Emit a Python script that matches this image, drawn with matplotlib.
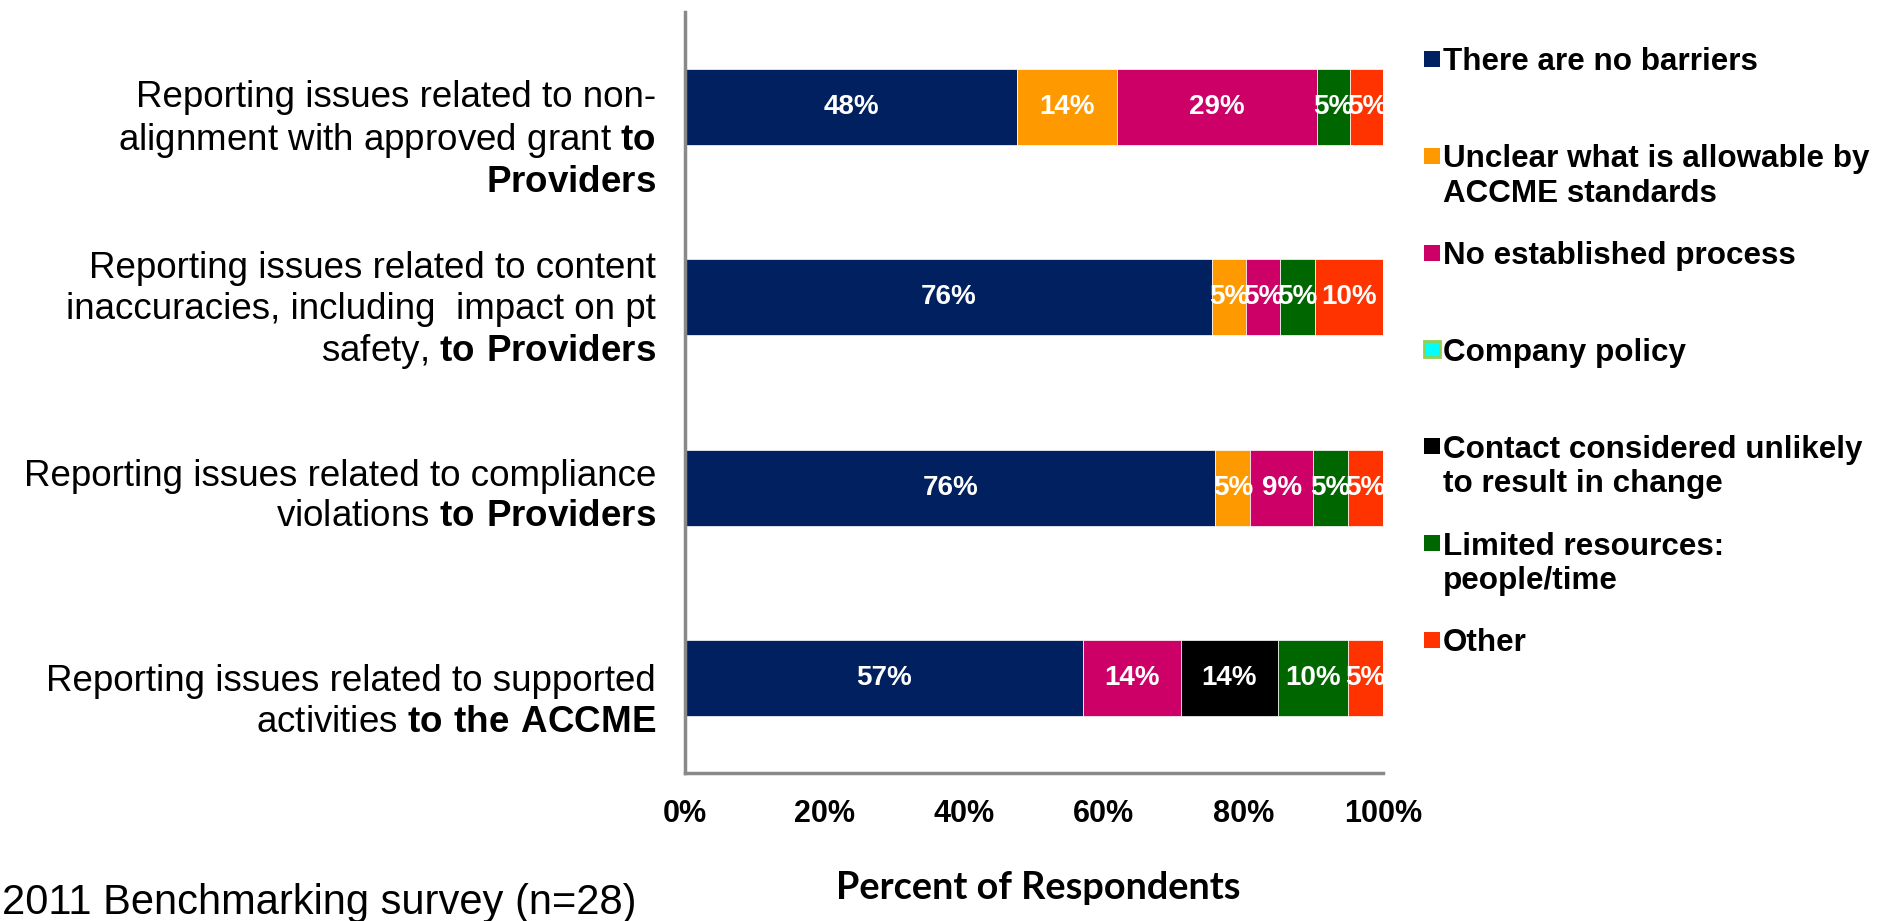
import matplotlib
matplotlib.use("Agg")
import matplotlib.pyplot as plt
from matplotlib.patches import Rectangle
import numpy as np

LAB_FONT = "Liberation Sans"
plt.rcParams['mathtext.fontset'] = 'custom'
plt.rcParams['mathtext.rm'] = LAB_FONT
plt.rcParams['mathtext.bf'] = LAB_FONT + ':bold'

# ---------------- data ----------------
categories = [
    "Reporting issues related to non-\nalignment with approved grant $\\mathbf{to}$\n$\\mathbf{Providers}$",
    "Reporting issues related to content\ninaccuracies, including  impact on pt\nsafety, $\\mathbf{to\\ Providers}$",
    "Reporting issues related to compliance\nviolations $\\mathbf{to\\ Providers}$",
    "Reporting issues related to supported\nactivities $\\mathbf{to\\ the\\ ACCME}$",
]
series_names = [
    "There are no barriers",
    "Unclear what is allowable by\nACCME standards",
    "No established process",
    "Company policy",
    "Contact considered unlikely\nto result in change",
    "Limited resources:\npeople/time",
    "Other",
]
# percent of respondents, one list per series (order: categories top to bottom)
no_barriers   = [47.6, 75.5, 76.0, 57.0]
unclear       = [14.3, 4.9, 5.0, 0.0]
no_process    = [28.6, 4.9, 9.0, 14.0]
company       = [0.0, 0.0, 0.0, 0.0]
contact       = [0.0, 0.0, 0.0, 14.0]
limited       = [4.8, 4.9, 5.0, 10.0]
other         = [4.8, 9.8, 5.0, 5.0]
x_ticks = [0, 20, 40, 60, 80, 100]
x_tick_labels = ["0%", "20%", "40%", "60%", "80%", "100%"]

colors = ["#002060", "#FF9900", "#CC0066", "#00FFFF", "#000000", "#006600", "#FF3300"]
edge_colors = [None, None, None, "#92D050", None, None, None]

values = [no_barriers, unclear, no_process, company, contact, limited, other]

# ---------------- figure ----------------
W, H = 1887, 921
fig = plt.figure(figsize=(W / 100, H / 100), dpi=100)
ax = fig.add_axes([685 / W, 1 - 773 / H, (1383 - 685) / W, (773 - 12) / H])

ypos = np.arange(len(categories))
left = np.zeros(len(categories))
for vals, col in zip(values, colors):
    vals = np.array(vals)
    bars = ax.barh(ypos, vals, left=left, height=0.4, color=col,
                   edgecolor='white', linewidth=0.5)
    for b, v in zip(bars, vals):
        if v > 0:
            ax.text(b.get_x() + b.get_width() / 2, b.get_y() + b.get_height() / 2,
                    f"{v:.0f}%", ha='center', va='center', color='white',
                    fontsize=20, fontweight='bold', family='Liberation Sans')
    left += vals

ax.set_xlim(0, 100)
ax.set_ylim(len(categories) - 0.5, -0.5)
ax.set_xticks(x_ticks)
ax.set_xticklabels(x_tick_labels, fontsize=22, fontweight='bold', family='Liberation Sans')
ax.tick_params(axis='x', length=0, pad=19)
ax.set_yticks([])
for s in ['top', 'right']:
    ax.spines[s].set_visible(False)
for s in ['left', 'bottom']:
    ax.spines[s].set_color('#898989')
    ax.spines[s].set_linewidth(2.5)

# category labels
label_dy = [33, 14, 9, 24]
for i, (lab, dy) in enumerate(zip(categories, label_dy)):
    ax.annotate(lab, xy=(0, i), xycoords=('axes fraction', 'data'),
                xytext=(-29, -dy), textcoords='offset pixels',
                ha='right', va='center', multialignment='right',
                fontsize=26.5, family=LAB_FONT, linespacing=1.2)

# x label
fig.text(1038 / W, 1 - 888 / H, "Percent of Respondents", ha='center', va='center',
         fontsize=27.3, fontweight='bold', family='Lato')

# footnote
fig.text(2 / W, 1 - 903 / H, "2011 Benchmarking survey (n=28)", ha='left', va='center',
         fontsize=30, family='Liberation Sans')

# legend (manual)
leg_y0, leg_dy = 59, 96.8
for k, (name, col, ec) in enumerate(zip(series_names, colors, edge_colors)):
    yc = leg_y0 + k * leg_dy
    sq = 16
    fig.patches.append(Rectangle((1424 / W, 1 - (yc + sq / 2) / H), sq / W, sq / H,
                                 transform=fig.transFigure, facecolor=col,
                                 edgecolor=ec if ec else col,
                                 linewidth=2 if ec else 0))
    fig.text(1443 / W, 1 - (yc - 11.5) / H, name, ha='left', va='top',
             fontsize=22.6, fontweight='bold', family='Liberation Sans', linespacing=1.2)

fig.savefig("out.png", dpi=100)
